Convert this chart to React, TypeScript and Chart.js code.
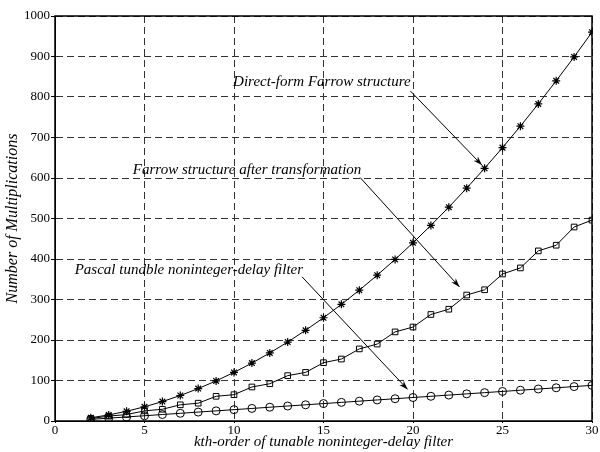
import React, { useEffect, useRef } from "react";
import { Chart, registerables } from "chart.js";

Chart.register(...registerables);

const orders = [2, 3, 4, 5, 6, 7, 8, 9, 10, 11, 12, 13, 14, 15, 16, 17, 18, 19, 20, 21, 22, 23, 24, 25, 26, 27, 28, 29, 30];
const directForm = [8, 15, 24, 35, 48, 63, 80, 99, 120, 143, 168, 195, 224, 255, 288, 323, 360, 399, 440, 483, 528, 575, 624, 675, 728, 783, 840, 899, 960];
const afterTransform = [6, 12, 16, 25, 29, 40, 44, 61, 65, 84, 92, 112, 120, 144, 153, 178, 190, 220, 232, 263, 276, 311, 324, 363, 378, 420, 434, 479, 496];
const pascal = [4, 7, 10, 13, 16, 19, 22, 25, 28, 31, 34, 37, 40, 43, 46, 49, 52, 55, 58, 61, 64, 67, 70, 73, 76, 79, 82, 85, 88];

const xTicks = [0, 5, 10, 15, 20, 25, 30];
const yTicks = [0, 100, 200, 300, 400, 500, 600, 700, 800, 900, 1000];

const seriesNames = ["Direct-form Farrow structure", "Farrow structure after transformation", "Pascal tundble noninteger-delay filter"];
const xTitle = "kth-order of tunable noninteger-delay filter";
const yTitle = "Number of Multiplications";

const FONT = '"Liberation Serif", "Times New Roman", serif';

// annotation text anchors and arrows in data coordinates
const notes = [
  { text: seriesNames[0], x: 9.95, y: 837, ax0: 19.85, ay0: 815, ax1: 23.85, ay1: 632 },
  { text: seriesNames[1], x: 4.35, y: 620, ax0: 17.05, ay0: 601, ax1: 22.6, ay1: 331 },
  { text: seriesNames[2], x: 1.1, y: 373, ax0: 13.8, ay0: 356, ax1: 19.7, ay1: 78 },
];

const annotPlugin = {
  id: "annot",
  afterDatasetsDraw(chart: any) {
    const { ctx, scales, chartArea } = chart;
    const xs = scales.x;
    const ys = scales.y;
    ctx.save();
    ctx.fillStyle = "#000";
    ctx.strokeStyle = "#000";
    ctx.font = `italic 15px ${FONT}`;
    ctx.textBaseline = "middle";
    ctx.textAlign = "left";
    for (const n of notes) {
      ctx.fillText(n.text, xs.getPixelForValue(n.x), ys.getPixelForValue(n.y));
      const x0 = xs.getPixelForValue(n.ax0);
      const y0 = ys.getPixelForValue(n.ay0);
      const x1 = xs.getPixelForValue(n.ax1);
      const y1 = ys.getPixelForValue(n.ay1);
      ctx.lineWidth = 1;
      ctx.beginPath();
      ctx.moveTo(x0, y0);
      ctx.lineTo(x1, y1);
      ctx.stroke();
      const ang = Math.atan2(y1 - y0, x1 - x0);
      const L = 9;
      const W = 3;
      ctx.beginPath();
      ctx.moveTo(x1, y1);
      ctx.lineTo(x1 - L * Math.cos(ang) + W * Math.sin(ang), y1 - L * Math.sin(ang) - W * Math.cos(ang));
      ctx.lineTo(x1 - L * 0.7 * Math.cos(ang), y1 - L * 0.7 * Math.sin(ang));
      ctx.lineTo(x1 - L * Math.cos(ang) - W * Math.sin(ang), y1 - L * Math.sin(ang) + W * Math.cos(ang));
      ctx.closePath();
      ctx.fill();
    }
    // axis titles
    ctx.font = `italic 15px ${FONT}`;
    ctx.textAlign = "center";
    ctx.textBaseline = "middle";
    ctx.fillText(xTitle, (chartArea.left + chartArea.right) / 2, 442);
    ctx.save();
    ctx.translate(13, (chartArea.top + chartArea.bottom) / 2);
    ctx.rotate(-Math.PI / 2);
    ctx.font = `italic 16px ${FONT}`;
    ctx.fillText(yTitle, 0, 0);
    ctx.restore();
    // border box
    ctx.lineWidth = 1.5;
    ctx.strokeRect(chartArea.left, chartArea.top, chartArea.right - chartArea.left, chartArea.bottom - chartArea.top);
    ctx.restore();
  },
};

export default function App() {
  const ref = useRef<HTMLCanvasElement>(null);
  useEffect(() => {
    if (!ref.current) return;
    const mk = (vals: number[]) => orders.map((o, i) => ({ x: o, y: vals[i] }));
    const common = {
      borderColor: "#000",
      borderWidth: 1,
      pointRadius: 4,
      pointBorderColor: "#000",
      pointBorderWidth: 1,
      pointBackgroundColor: "transparent",
      tension: 0,
    };
    const chart = new Chart(ref.current, {
      type: "line",
      data: {
        datasets: [
          { ...common, label: seriesNames[0], data: mk(directForm), pointStyle: "star", pointBorderWidth: 1.2 },
          { ...common, label: seriesNames[1], data: mk(afterTransform), pointStyle: "rect" },
          { ...common, label: seriesNames[2], data: mk(pascal), pointStyle: "circle" },
        ],
      },
      options: {
        animation: false,
        responsive: false,
        devicePixelRatio: 1,
        layout: { padding: { top: 16, right: 8, left: 0, bottom: 0 } },
        plugins: { legend: { display: false }, tooltip: { enabled: false } },
        scales: {
          x: {
            type: "linear",
            min: 0,
            max: 30,
            afterBuildTicks: (s: any) => {
              s.ticks = xTicks.map((v) => ({ value: v }));
            },
            afterFit: (s: any) => {
              s.height = 31;
            },
            ticks: { color: "#000", font: { family: FONT, size: 13 }, padding: 0, maxRotation: 0, callback: (v: any) => String(v) },
            grid: { color: "#333", lineWidth: 1, tickLength: 2, drawTicks: true, tickColor: "#000" },
            border: { display: true, color: "#000", dash: [7, 4] },
          },
          y: {
            type: "linear",
            min: 0,
            max: 1000,
            afterBuildTicks: (s: any) => {
              s.ticks = yTicks.map((v) => ({ value: v }));
            },
            afterFit: (s: any) => {
              s.width = 55;
            },
            ticks: { color: "#000", font: { family: FONT, size: 13 }, padding: 1, callback: (v: any) => String(v) },
            grid: { color: "#333", lineWidth: 1, tickLength: 4, drawTicks: true, tickColor: "#000" },
            border: { display: true, color: "#000", dash: [7, 4] },
          },
        },
      },
      plugins: [annotPlugin],
    });
    return () => chart.destroy();
  }, []);
  return (
    <div style={{ position: "absolute", left: 0, top: 0, width: 600, height: 452, background: "#fff" }}>
      <canvas ref={ref} width={600} height={452} style={{ width: 600, height: 452 }} />
    </div>
  );
}
